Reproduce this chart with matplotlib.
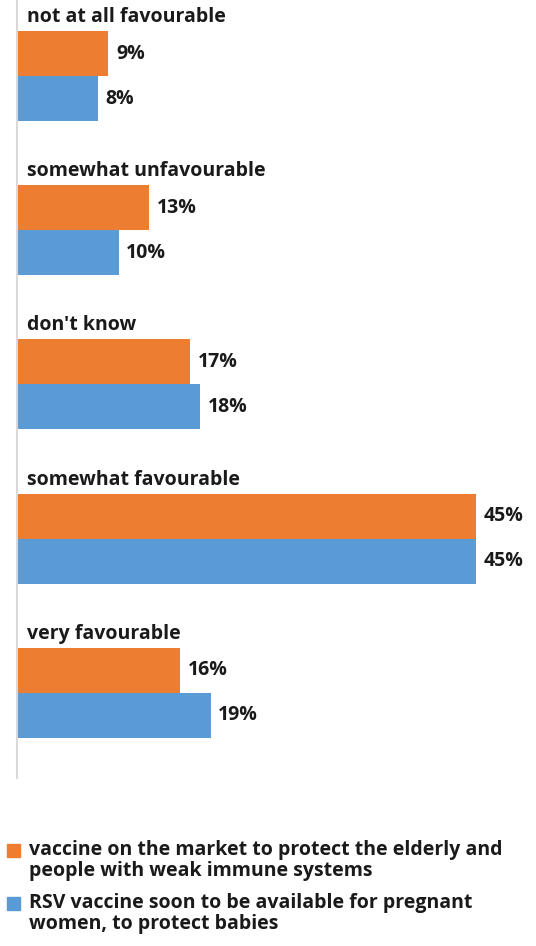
import numpy as np
import matplotlib
matplotlib.use('Agg')
import matplotlib.pyplot as plt
from matplotlib.patches import Rectangle

# Datos de la encuesta (%)
categorias = ['not at all favourable', 'somewhat unfavourable', "don't know",
              'somewhat favourable', 'very favourable']
mercado = [9, 13, 17, 45, 16]
rsv = [8, 10, 18, 45, 19]

series = ['vaccine on the market to protect the elderly and\npeople with weak immune systems',
          'RSV vaccine soon to be available for pregnant\nwomen, to protect babies']
colores = ['#ED7D31', '#5B9BD5']

plt.rcParams['font.family'] = ['Open Sans', 'DejaVu Sans']
texto = '#1a1a1a'
peso = 700
tam = 14

fig = plt.figure(figsize=(5.36, 9.46), dpi=100)
ax = fig.add_axes([16.5 / 536, 1 - 778 / 946, 519.5 / 536, 778 / 946])

alto = 0.292
y = np.arange(len(categorias)) + 0.493

ax.barh(y - alto / 2, mercado, height=alto, color=colores[0], left=0)
ax.barh(y + alto / 2, rsv, height=alto, color=colores[1], left=0)

for i, cat in enumerate(categorias):
    ax.annotate(cat, xy=(0, y[i] - alto), xytext=(7.5, 6.5), textcoords='offset points',
                ha='left', va='baseline', fontsize=tam, fontweight=peso, color=texto)
    ax.annotate(f'{mercado[i]}%', xy=(mercado[i], y[i] - alto / 2), xytext=(5.5, 0),
                textcoords='offset points', ha='left', va='center',
                fontsize=tam, fontweight=peso, color=texto)
    ax.annotate(f'{rsv[i]}%', xy=(rsv[i], y[i] + alto / 2), xytext=(5.5, 0),
                textcoords='offset points', ha='left', va='center',
                fontsize=tam, fontweight=peso, color=texto)

ax.set_xlim(0, 45 * 519.5 / 459.5)
ax.set_ylim(5.045, 0)
ax.set_xticks([])
ax.set_yticks([])
for lado in ['top', 'right', 'bottom']:
    ax.spines[lado].set_visible(False)
ax.spines['left'].set_color('#d9d9d9')
ax.spines['left'].set_linewidth(1.5)

# Leyenda hecha a mano: cuadrado alineado con la primera linea
for j, (nombre, col) in enumerate(zip(series, colores)):
    top = 844 + j * 53
    fig.patches.append(Rectangle((7 / 536, 1 - (top + 13) / 946), 13 / 536, 13 / 946,
                                 transform=fig.transFigure, color=col))
    # con varias lineas, 'baseline' se refiere a la ultima
    fig.text(29 / 536, 1 - (top + 32) / 946, nombre, ha='left', va='baseline',
             fontsize=tam, fontweight=peso, color=texto, linespacing=1.1)

fig.savefig('out.png', dpi=100)
